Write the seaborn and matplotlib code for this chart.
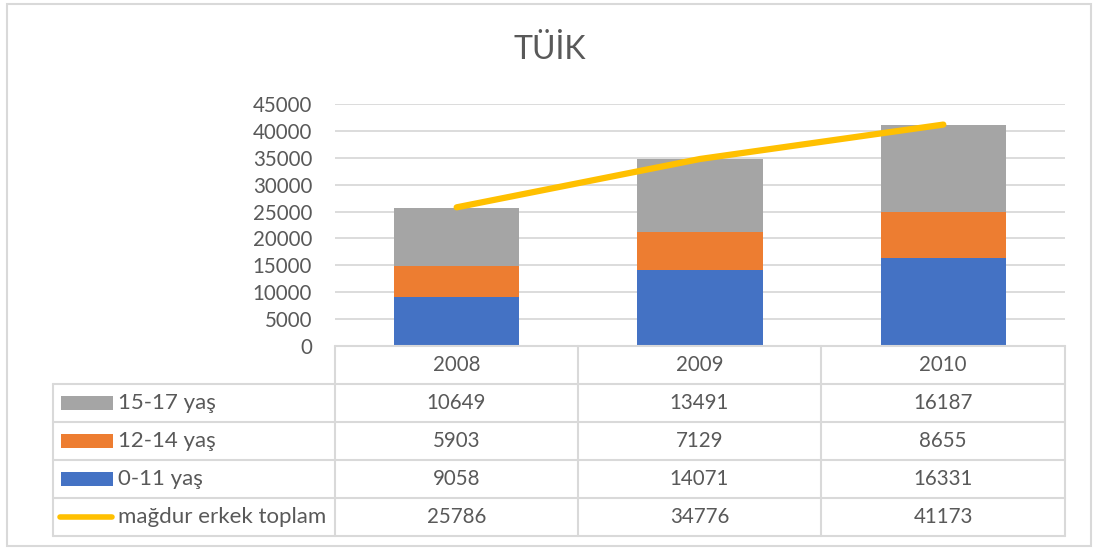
import numpy as np
import pandas as pd
import matplotlib
matplotlib.use("Agg")
import matplotlib.pyplot as plt
import seaborn as sns
from matplotlib.patches import Rectangle
from matplotlib.lines import Line2D

# ---- data ----
years = ["2008", "2009", "2010"]
age_0_11 = [9058, 14071, 16331]
age_12_14 = [5903, 7129, 8655]
age_15_17 = [10649, 13491, 16187]
total_male = [25786, 34776, 41173]
series_labels = ["15-17 yaş", "12-14 yaş", "0-11 yaş", "mağdur erkek toplam"]
title = "TÜİK"
yticks = [0, 5000, 10000, 15000, 20000, 25000, 30000, 35000, 40000, 45000]

C_BLUE = "#4472C4"
C_ORANGE = "#ED7D31"
C_GRAY = "#A5A5A5"
C_YELLOW = "#FFC000"
GRID = "#D9D9D9"
TXT = "#595959"

sns.set_theme(style="white")
plt.rcParams["font.family"] = ["Lato", "DejaVu Sans"]

W, H = 1097, 549
fig = plt.figure(figsize=(W / 100, H / 100), dpi=100)

def fx(x):
    return x / W

def fy(y):
    return 1 - y / H

# plot area
ax = fig.add_axes([fx(335), fy(346), fx(1065) - fx(335), fy(104) - fy(346)])

df = pd.DataFrame({
    "year": years,
    "c3": np.array(age_0_11) + np.array(age_12_14) + np.array(age_15_17),
    "c2": np.array(age_0_11) + np.array(age_12_14),
    "c1": np.array(age_0_11),
})
bw = 0.515
sns.barplot(data=df, x="year", y="c3", color=C_GRAY, width=bw, saturation=1, ax=ax, edgecolor="none")
sns.barplot(data=df, x="year", y="c2", color=C_ORANGE, width=bw, saturation=1, ax=ax, edgecolor="none")
sns.barplot(data=df, x="year", y="c1", color=C_BLUE, width=bw, saturation=1, ax=ax, edgecolor="none")
sns.lineplot(x=np.arange(len(years)), y=total_male, color=C_YELLOW, lw=4.5, ax=ax,
             solid_capstyle="round", zorder=5)

ax.set_xlim(-0.5, len(years) - 0.5)
ax.set_ylim(0, 45000)
ax.set_yticks(yticks)
ax.set_yticklabels([str(v) for v in yticks], color=TXT, fontsize=14.8)
ax.tick_params(axis="y", length=0, pad=16.5)
ax.set_xticks([])
ax.set_xlabel("")
ax.set_ylabel("")
ax.yaxis.grid(True, color=GRID, lw=1.3)
ax.set_axisbelow(True)
for s in ax.spines.values():
    s.set_visible(False)

# title
fig.text(fx(550), fy(50), title, ha="center", va="center", fontsize=23, color=TXT)

# outer border
fig.add_artist(Rectangle((fx(7), fy(546)), fx(1091) - fx(7), fy(4) - fy(546),
                         transform=fig.transFigure, fill=False, edgecolor=GRID, lw=1.5))

# data table
cols = [335, 578, 821, 1065]
rows = [346, 384, 422, 460, 498, 536]
lkw = dict(transform=fig.transFigure, color=GRID, lw=1.5)
fig.add_artist(Line2D([fx(335), fx(1065)], [fy(346), fy(346)], **lkw))
for r in rows[1:]:
    fig.add_artist(Line2D([fx(53), fx(1065)], [fy(r), fy(r)], **lkw))
for c in cols:
    fig.add_artist(Line2D([fx(c), fx(c)], [fy(346), fy(536)], **lkw))
fig.add_artist(Line2D([fx(53), fx(53)], [fy(384), fy(536)], **lkw))

def cy(i):
    return fy((rows[i] + rows[i + 1]) / 2)

for j, yr in enumerate(years):
    fig.text(fx((cols[j] + cols[j + 1]) / 2), cy(0), yr, ha="center", va="center", fontsize=14.8, color=TXT)

row_vals = [age_15_17, age_12_14, age_0_11, total_male]
row_colors = [C_GRAY, C_ORANGE, C_BLUE, C_YELLOW]
for i, (lab, vals, col) in enumerate(zip(series_labels, row_vals, row_colors)):
    yc = cy(i + 1)
    if i < 3:
        fig.add_artist(Rectangle((fx(61), yc - 7 / H), fx(113) - fx(61), 14 / H,
                                 transform=fig.transFigure, color=col, lw=0))
    else:
        fig.add_artist(Line2D([fx(60), fx(112)], [yc, yc], transform=fig.transFigure,
                              color=col, lw=4, solid_capstyle="round"))
    fig.text(fx(118), yc, lab, ha="left", va="center", fontsize=16, color=TXT)
    for j, v in enumerate(vals):
        fig.text(fx((cols[j] + cols[j + 1]) / 2), yc, str(v), ha="center", va="center",
                 fontsize=14.8, color=TXT)

fig.savefig("out.png", dpi=100, facecolor="white")
